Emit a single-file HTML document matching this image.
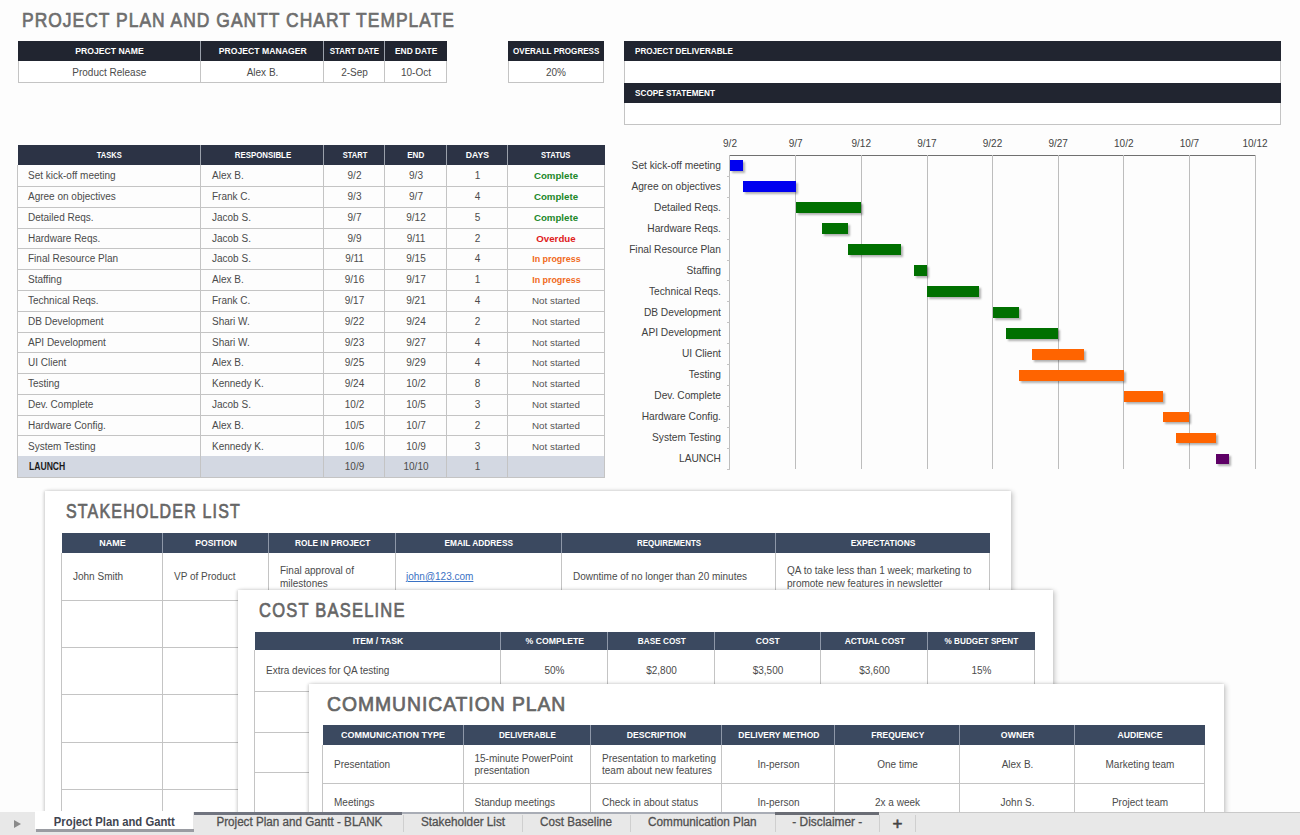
<!DOCTYPE html>
<html><head><meta charset="utf-8"><style>
html,body{margin:0;padding:0;}
body{width:1300px;height:835px;overflow:hidden;position:relative;background:#fdfdfd;font-family:"Liberation Sans",sans-serif;}
</style></head><body>
<div style="position:absolute;left:22.00px;top:0.07px;height:40px;line-height:40px;white-space:nowrap;font-size:20.5px;font-weight:400;color:#6e6e6e;transform:scaleX(0.8504);transform-origin:left center;-webkit-text-stroke:0.7px #6e6e6e;letter-spacing:1.2px;">PROJECT PLAN AND GANTT CHART TEMPLATE</div>
<div style="position:absolute;left:17.5px;top:41px;width:429.5px;height:20px;background:#212530;"></div>
<div style="position:absolute;left:200px;top:41px;width:1px;height:20px;background:#9aa0aa;"></div>
<div style="position:absolute;left:323px;top:41px;width:1px;height:20px;background:#9aa0aa;"></div>
<div style="position:absolute;left:384px;top:41px;width:1px;height:20px;background:#9aa0aa;"></div>
<div style="position:absolute;left:72.70px;top:31.17px;height:40px;line-height:40px;white-space:nowrap;font-size:9.2px;font-weight:700;color:#fff;transform:scaleX(0.9405);transform-origin:center center;">PROJECT NAME</div>
<div style="position:absolute;left:215.73px;top:31.17px;height:40px;line-height:40px;white-space:nowrap;font-size:9.2px;font-weight:700;color:#fff;transform:scaleX(0.9408);transform-origin:center center;">PROJECT MANAGER</div>
<div style="position:absolute;left:326.05px;top:31.17px;height:40px;line-height:40px;white-space:nowrap;font-size:9.2px;font-weight:700;color:#fff;transform:scaleX(0.8665);transform-origin:center center;">START DATE</div>
<div style="position:absolute;left:392.83px;top:31.17px;height:40px;line-height:40px;white-space:nowrap;font-size:9.2px;font-weight:700;color:#fff;transform:scaleX(0.9128);transform-origin:center center;">END DATE</div>
<div style="position:absolute;left:17.5px;top:61px;width:429.5px;height:22px;border:1px solid #c4c4c4;border-top:none;box-sizing:border-box;background:#fff;"></div>
<div style="position:absolute;left:200px;top:61px;width:1px;height:22px;background:#c4c4c4;"></div>
<div style="position:absolute;left:323px;top:61px;width:1px;height:22px;background:#c4c4c4;"></div>
<div style="position:absolute;left:384px;top:61px;width:1px;height:22px;background:#c4c4c4;"></div>
<div style="position:absolute;left:72.29px;top:53.18px;height:40px;line-height:40px;white-space:nowrap;font-size:10px;font-weight:400;color:#4b4b4b;">Product Release</div>
<div style="position:absolute;left:246.66px;top:53.18px;height:40px;line-height:40px;white-space:nowrap;font-size:10px;font-weight:400;color:#4b4b4b;">Alex B.</div>
<div style="position:absolute;left:341.16px;top:53.18px;height:40px;line-height:40px;white-space:nowrap;font-size:10px;font-weight:400;color:#4b4b4b;">2-Sep</div>
<div style="position:absolute;left:401.00px;top:53.18px;height:40px;line-height:40px;white-space:nowrap;font-size:10px;font-weight:400;color:#4b4b4b;">10-Oct</div>
<div style="position:absolute;left:507.5px;top:41px;width:96.5px;height:20px;background:#212530;"></div>
<div style="position:absolute;left:506.75px;top:31.17px;height:40px;line-height:40px;white-space:nowrap;font-size:9.2px;font-weight:700;color:#fff;transform:scaleX(0.8783);transform-origin:center center;">OVERALL PROGRESS</div>
<div style="position:absolute;left:507.5px;top:61px;width:96.5px;height:21.5px;border:1px solid #c4c4c4;border-top:none;box-sizing:border-box;background:#fff;"></div>
<div style="position:absolute;left:545.99px;top:53.18px;height:40px;line-height:40px;white-space:nowrap;font-size:10px;font-weight:400;color:#4b4b4b;">20%</div>
<div style="position:absolute;left:623.5px;top:41px;width:657.5px;height:20px;background:#212530;"></div>
<div style="position:absolute;left:634.50px;top:31.17px;height:40px;line-height:40px;white-space:nowrap;font-size:9.2px;font-weight:700;color:#fff;transform:scaleX(0.8835);transform-origin:left center;">PROJECT DELIVERABLE</div>
<div style="position:absolute;left:623.5px;top:61px;width:657.5px;height:22px;border-left:1px solid #c4c4c4;border-right:1px solid #c4c4c4;box-sizing:border-box;background:#fff;"></div>
<div style="position:absolute;left:623.5px;top:83px;width:657.5px;height:20px;background:#212530;"></div>
<div style="position:absolute;left:634.50px;top:73.17px;height:40px;line-height:40px;white-space:nowrap;font-size:9.2px;font-weight:700;color:#fff;transform:scaleX(0.8927);transform-origin:left center;">SCOPE STATEMENT</div>
<div style="position:absolute;left:623.5px;top:103px;width:657.5px;height:21.5px;border:1px solid #c4c4c4;border-top:none;box-sizing:border-box;background:#fff;"></div>
<div style="position:absolute;left:17.5px;top:145px;width:587.5px;height:20px;background:#2c3345;"></div>
<div style="position:absolute;left:200px;top:145px;width:1px;height:20px;background:#9aa0aa;"></div>
<div style="position:absolute;left:323px;top:145px;width:1px;height:20px;background:#9aa0aa;"></div>
<div style="position:absolute;left:384px;top:145px;width:1px;height:20px;background:#9aa0aa;"></div>
<div style="position:absolute;left:446px;top:145px;width:1px;height:20px;background:#9aa0aa;"></div>
<div style="position:absolute;left:507px;top:145px;width:1px;height:20px;background:#9aa0aa;"></div>
<div style="position:absolute;left:94.00px;top:135.17px;height:40px;line-height:40px;white-space:nowrap;font-size:9.2px;font-weight:700;color:#fff;transform:scaleX(0.8198);transform-origin:center center;">TASKS</div>
<div style="position:absolute;left:229.53px;top:135.17px;height:40px;line-height:40px;white-space:nowrap;font-size:9.2px;font-weight:700;color:#fff;transform:scaleX(0.8568);transform-origin:center center;">RESPONSIBLE</div>
<div style="position:absolute;left:339.51px;top:135.17px;height:40px;line-height:40px;white-space:nowrap;font-size:9.2px;font-weight:700;color:#fff;transform:scaleX(0.8205);transform-origin:center center;">START</div>
<div style="position:absolute;left:406.29px;top:135.17px;height:40px;line-height:40px;white-space:nowrap;font-size:9.2px;font-weight:700;color:#fff;transform:scaleX(0.8804);transform-origin:center center;">END</div>
<div style="position:absolute;left:465.14px;top:135.17px;height:40px;line-height:40px;white-space:nowrap;font-size:9.2px;font-weight:700;color:#fff;transform:scaleX(0.9387);transform-origin:center center;">DAYS</div>
<div style="position:absolute;left:538.28px;top:135.17px;height:40px;line-height:40px;white-space:nowrap;font-size:9.2px;font-weight:700;color:#fff;transform:scaleX(0.8297);transform-origin:center center;">STATUS</div>
<div style="position:absolute;left:17.5px;top:186px;width:587.5px;height:1px;background:#c4c4c4;"></div>
<div style="position:absolute;left:28.00px;top:156.18px;height:40px;line-height:40px;white-space:nowrap;font-size:10px;font-weight:400;color:#4b4b4b;">Set kick-off meeting</div>
<div style="position:absolute;left:212.00px;top:156.18px;height:40px;line-height:40px;white-space:nowrap;font-size:10px;font-weight:400;color:#4b4b4b;">Alex B.</div>
<div style="position:absolute;left:347.55px;top:156.18px;height:40px;line-height:40px;white-space:nowrap;font-size:10px;font-weight:400;color:#4b4b4b;">9/2</div>
<div style="position:absolute;left:409.05px;top:156.18px;height:40px;line-height:40px;white-space:nowrap;font-size:10px;font-weight:400;color:#4b4b4b;">9/3</div>
<div style="position:absolute;left:474.72px;top:156.18px;height:40px;line-height:40px;white-space:nowrap;font-size:10px;font-weight:400;color:#4b4b4b;">1</div>
<div style="position:absolute;left:533.90px;top:156.17px;height:40px;line-height:40px;white-space:nowrap;font-size:9.7px;font-weight:700;color:#22882a;">Complete</div>
<div style="position:absolute;left:17.5px;top:207px;width:587.5px;height:1px;background:#c4c4c4;"></div>
<div style="position:absolute;left:28.00px;top:177.07px;height:40px;line-height:40px;white-space:nowrap;font-size:10px;font-weight:400;color:#4b4b4b;">Agree on objectives</div>
<div style="position:absolute;left:212.00px;top:177.07px;height:40px;line-height:40px;white-space:nowrap;font-size:10px;font-weight:400;color:#4b4b4b;">Frank C.</div>
<div style="position:absolute;left:347.55px;top:177.07px;height:40px;line-height:40px;white-space:nowrap;font-size:10px;font-weight:400;color:#4b4b4b;">9/3</div>
<div style="position:absolute;left:409.05px;top:177.07px;height:40px;line-height:40px;white-space:nowrap;font-size:10px;font-weight:400;color:#4b4b4b;">9/7</div>
<div style="position:absolute;left:474.72px;top:177.07px;height:40px;line-height:40px;white-space:nowrap;font-size:10px;font-weight:400;color:#4b4b4b;">4</div>
<div style="position:absolute;left:533.90px;top:177.07px;height:40px;line-height:40px;white-space:nowrap;font-size:9.7px;font-weight:700;color:#22882a;">Complete</div>
<div style="position:absolute;left:17.5px;top:228px;width:587.5px;height:1px;background:#c4c4c4;"></div>
<div style="position:absolute;left:28.00px;top:197.86px;height:40px;line-height:40px;white-space:nowrap;font-size:10px;font-weight:400;color:#4b4b4b;">Detailed Reqs.</div>
<div style="position:absolute;left:212.00px;top:197.86px;height:40px;line-height:40px;white-space:nowrap;font-size:10px;font-weight:400;color:#4b4b4b;">Jacob S.</div>
<div style="position:absolute;left:347.55px;top:197.86px;height:40px;line-height:40px;white-space:nowrap;font-size:10px;font-weight:400;color:#4b4b4b;">9/7</div>
<div style="position:absolute;left:406.27px;top:197.86px;height:40px;line-height:40px;white-space:nowrap;font-size:10px;font-weight:400;color:#4b4b4b;">9/12</div>
<div style="position:absolute;left:474.72px;top:197.86px;height:40px;line-height:40px;white-space:nowrap;font-size:10px;font-weight:400;color:#4b4b4b;">5</div>
<div style="position:absolute;left:533.90px;top:197.85px;height:40px;line-height:40px;white-space:nowrap;font-size:9.7px;font-weight:700;color:#22882a;">Complete</div>
<div style="position:absolute;left:17.5px;top:248px;width:587.5px;height:1px;background:#c4c4c4;"></div>
<div style="position:absolute;left:28.00px;top:218.64px;height:40px;line-height:40px;white-space:nowrap;font-size:10px;font-weight:400;color:#4b4b4b;">Hardware Reqs.</div>
<div style="position:absolute;left:212.00px;top:218.64px;height:40px;line-height:40px;white-space:nowrap;font-size:10px;font-weight:400;color:#4b4b4b;">Jacob S.</div>
<div style="position:absolute;left:347.55px;top:218.64px;height:40px;line-height:40px;white-space:nowrap;font-size:10px;font-weight:400;color:#4b4b4b;">9/9</div>
<div style="position:absolute;left:406.64px;top:218.64px;height:40px;line-height:40px;white-space:nowrap;font-size:10px;font-weight:400;color:#4b4b4b;">9/11</div>
<div style="position:absolute;left:474.72px;top:218.64px;height:40px;line-height:40px;white-space:nowrap;font-size:10px;font-weight:400;color:#4b4b4b;">2</div>
<div style="position:absolute;left:536.32px;top:218.64px;height:40px;line-height:40px;white-space:nowrap;font-size:9.7px;font-weight:700;color:#e0201c;">Overdue</div>
<div style="position:absolute;left:17.5px;top:269px;width:587.5px;height:1px;background:#c4c4c4;"></div>
<div style="position:absolute;left:28.00px;top:239.43px;height:40px;line-height:40px;white-space:nowrap;font-size:10px;font-weight:400;color:#4b4b4b;">Final Resource Plan</div>
<div style="position:absolute;left:212.00px;top:239.43px;height:40px;line-height:40px;white-space:nowrap;font-size:10px;font-weight:400;color:#4b4b4b;">Jacob S.</div>
<div style="position:absolute;left:345.14px;top:239.43px;height:40px;line-height:40px;white-space:nowrap;font-size:10px;font-weight:400;color:#4b4b4b;">9/11</div>
<div style="position:absolute;left:406.27px;top:239.43px;height:40px;line-height:40px;white-space:nowrap;font-size:10px;font-weight:400;color:#4b4b4b;">9/15</div>
<div style="position:absolute;left:474.72px;top:239.43px;height:40px;line-height:40px;white-space:nowrap;font-size:10px;font-weight:400;color:#4b4b4b;">4</div>
<div style="position:absolute;left:529.59px;top:239.42px;height:40px;line-height:40px;white-space:nowrap;font-size:9.7px;font-weight:700;color:#f06a1a;transform:scaleX(0.9181);transform-origin:center center;">In progress</div>
<div style="position:absolute;left:17.5px;top:290px;width:587.5px;height:1px;background:#c4c4c4;"></div>
<div style="position:absolute;left:28.00px;top:260.22px;height:40px;line-height:40px;white-space:nowrap;font-size:10px;font-weight:400;color:#4b4b4b;">Staffing</div>
<div style="position:absolute;left:212.00px;top:260.22px;height:40px;line-height:40px;white-space:nowrap;font-size:10px;font-weight:400;color:#4b4b4b;">Alex B.</div>
<div style="position:absolute;left:344.77px;top:260.22px;height:40px;line-height:40px;white-space:nowrap;font-size:10px;font-weight:400;color:#4b4b4b;">9/16</div>
<div style="position:absolute;left:406.27px;top:260.22px;height:40px;line-height:40px;white-space:nowrap;font-size:10px;font-weight:400;color:#4b4b4b;">9/17</div>
<div style="position:absolute;left:474.72px;top:260.22px;height:40px;line-height:40px;white-space:nowrap;font-size:10px;font-weight:400;color:#4b4b4b;">1</div>
<div style="position:absolute;left:529.59px;top:260.21px;height:40px;line-height:40px;white-space:nowrap;font-size:9.7px;font-weight:700;color:#f06a1a;transform:scaleX(0.9181);transform-origin:center center;">In progress</div>
<div style="position:absolute;left:17.5px;top:311px;width:587.5px;height:1px;background:#c4c4c4;"></div>
<div style="position:absolute;left:28.00px;top:281.00px;height:40px;line-height:40px;white-space:nowrap;font-size:10px;font-weight:400;color:#4b4b4b;">Technical Reqs.</div>
<div style="position:absolute;left:212.00px;top:281.00px;height:40px;line-height:40px;white-space:nowrap;font-size:10px;font-weight:400;color:#4b4b4b;">Frank C.</div>
<div style="position:absolute;left:344.77px;top:281.00px;height:40px;line-height:40px;white-space:nowrap;font-size:10px;font-weight:400;color:#4b4b4b;">9/17</div>
<div style="position:absolute;left:406.27px;top:281.00px;height:40px;line-height:40px;white-space:nowrap;font-size:10px;font-weight:400;color:#4b4b4b;">9/21</div>
<div style="position:absolute;left:474.72px;top:281.00px;height:40px;line-height:40px;white-space:nowrap;font-size:10px;font-weight:400;color:#4b4b4b;">4</div>
<div style="position:absolute;left:532.03px;top:281.00px;height:40px;line-height:40px;white-space:nowrap;font-size:9.8px;font-weight:400;color:#555;">Not started</div>
<div style="position:absolute;left:17.5px;top:332px;width:587.5px;height:1px;background:#c4c4c4;"></div>
<div style="position:absolute;left:28.00px;top:301.79px;height:40px;line-height:40px;white-space:nowrap;font-size:10px;font-weight:400;color:#4b4b4b;">DB Development</div>
<div style="position:absolute;left:212.00px;top:301.79px;height:40px;line-height:40px;white-space:nowrap;font-size:10px;font-weight:400;color:#4b4b4b;">Shari W.</div>
<div style="position:absolute;left:344.77px;top:301.79px;height:40px;line-height:40px;white-space:nowrap;font-size:10px;font-weight:400;color:#4b4b4b;">9/22</div>
<div style="position:absolute;left:406.27px;top:301.79px;height:40px;line-height:40px;white-space:nowrap;font-size:10px;font-weight:400;color:#4b4b4b;">9/24</div>
<div style="position:absolute;left:474.72px;top:301.79px;height:40px;line-height:40px;white-space:nowrap;font-size:10px;font-weight:400;color:#4b4b4b;">2</div>
<div style="position:absolute;left:532.03px;top:301.78px;height:40px;line-height:40px;white-space:nowrap;font-size:9.8px;font-weight:400;color:#555;">Not started</div>
<div style="position:absolute;left:17.5px;top:352px;width:587.5px;height:1px;background:#c4c4c4;"></div>
<div style="position:absolute;left:28.00px;top:322.57px;height:40px;line-height:40px;white-space:nowrap;font-size:10px;font-weight:400;color:#4b4b4b;">API Development</div>
<div style="position:absolute;left:212.00px;top:322.57px;height:40px;line-height:40px;white-space:nowrap;font-size:10px;font-weight:400;color:#4b4b4b;">Shari W.</div>
<div style="position:absolute;left:344.77px;top:322.57px;height:40px;line-height:40px;white-space:nowrap;font-size:10px;font-weight:400;color:#4b4b4b;">9/23</div>
<div style="position:absolute;left:406.27px;top:322.57px;height:40px;line-height:40px;white-space:nowrap;font-size:10px;font-weight:400;color:#4b4b4b;">9/27</div>
<div style="position:absolute;left:474.72px;top:322.57px;height:40px;line-height:40px;white-space:nowrap;font-size:10px;font-weight:400;color:#4b4b4b;">4</div>
<div style="position:absolute;left:532.03px;top:322.57px;height:40px;line-height:40px;white-space:nowrap;font-size:9.8px;font-weight:400;color:#555;">Not started</div>
<div style="position:absolute;left:17.5px;top:373px;width:587.5px;height:1px;background:#c4c4c4;"></div>
<div style="position:absolute;left:28.00px;top:343.36px;height:40px;line-height:40px;white-space:nowrap;font-size:10px;font-weight:400;color:#4b4b4b;">UI Client</div>
<div style="position:absolute;left:212.00px;top:343.36px;height:40px;line-height:40px;white-space:nowrap;font-size:10px;font-weight:400;color:#4b4b4b;">Alex B.</div>
<div style="position:absolute;left:344.77px;top:343.36px;height:40px;line-height:40px;white-space:nowrap;font-size:10px;font-weight:400;color:#4b4b4b;">9/25</div>
<div style="position:absolute;left:406.27px;top:343.36px;height:40px;line-height:40px;white-space:nowrap;font-size:10px;font-weight:400;color:#4b4b4b;">9/29</div>
<div style="position:absolute;left:474.72px;top:343.36px;height:40px;line-height:40px;white-space:nowrap;font-size:10px;font-weight:400;color:#4b4b4b;">4</div>
<div style="position:absolute;left:532.03px;top:343.35px;height:40px;line-height:40px;white-space:nowrap;font-size:9.8px;font-weight:400;color:#555;">Not started</div>
<div style="position:absolute;left:17.5px;top:394px;width:587.5px;height:1px;background:#c4c4c4;"></div>
<div style="position:absolute;left:28.00px;top:364.14px;height:40px;line-height:40px;white-space:nowrap;font-size:10px;font-weight:400;color:#4b4b4b;">Testing</div>
<div style="position:absolute;left:212.00px;top:364.14px;height:40px;line-height:40px;white-space:nowrap;font-size:10px;font-weight:400;color:#4b4b4b;">Kennedy K.</div>
<div style="position:absolute;left:344.77px;top:364.14px;height:40px;line-height:40px;white-space:nowrap;font-size:10px;font-weight:400;color:#4b4b4b;">9/24</div>
<div style="position:absolute;left:406.27px;top:364.14px;height:40px;line-height:40px;white-space:nowrap;font-size:10px;font-weight:400;color:#4b4b4b;">10/2</div>
<div style="position:absolute;left:474.72px;top:364.14px;height:40px;line-height:40px;white-space:nowrap;font-size:10px;font-weight:400;color:#4b4b4b;">8</div>
<div style="position:absolute;left:532.03px;top:364.14px;height:40px;line-height:40px;white-space:nowrap;font-size:9.8px;font-weight:400;color:#555;">Not started</div>
<div style="position:absolute;left:17.5px;top:415px;width:587.5px;height:1px;background:#c4c4c4;"></div>
<div style="position:absolute;left:28.00px;top:384.93px;height:40px;line-height:40px;white-space:nowrap;font-size:10px;font-weight:400;color:#4b4b4b;">Dev. Complete</div>
<div style="position:absolute;left:212.00px;top:384.93px;height:40px;line-height:40px;white-space:nowrap;font-size:10px;font-weight:400;color:#4b4b4b;">Jacob S.</div>
<div style="position:absolute;left:344.77px;top:384.93px;height:40px;line-height:40px;white-space:nowrap;font-size:10px;font-weight:400;color:#4b4b4b;">10/2</div>
<div style="position:absolute;left:406.27px;top:384.93px;height:40px;line-height:40px;white-space:nowrap;font-size:10px;font-weight:400;color:#4b4b4b;">10/5</div>
<div style="position:absolute;left:474.72px;top:384.93px;height:40px;line-height:40px;white-space:nowrap;font-size:10px;font-weight:400;color:#4b4b4b;">3</div>
<div style="position:absolute;left:532.03px;top:384.93px;height:40px;line-height:40px;white-space:nowrap;font-size:9.8px;font-weight:400;color:#555;">Not started</div>
<div style="position:absolute;left:17.5px;top:435px;width:587.5px;height:1px;background:#c4c4c4;"></div>
<div style="position:absolute;left:28.00px;top:405.72px;height:40px;line-height:40px;white-space:nowrap;font-size:10px;font-weight:400;color:#4b4b4b;">Hardware Config.</div>
<div style="position:absolute;left:212.00px;top:405.72px;height:40px;line-height:40px;white-space:nowrap;font-size:10px;font-weight:400;color:#4b4b4b;">Alex B.</div>
<div style="position:absolute;left:344.77px;top:405.72px;height:40px;line-height:40px;white-space:nowrap;font-size:10px;font-weight:400;color:#4b4b4b;">10/5</div>
<div style="position:absolute;left:406.27px;top:405.72px;height:40px;line-height:40px;white-space:nowrap;font-size:10px;font-weight:400;color:#4b4b4b;">10/7</div>
<div style="position:absolute;left:474.72px;top:405.72px;height:40px;line-height:40px;white-space:nowrap;font-size:10px;font-weight:400;color:#4b4b4b;">2</div>
<div style="position:absolute;left:532.03px;top:405.71px;height:40px;line-height:40px;white-space:nowrap;font-size:9.8px;font-weight:400;color:#555;">Not started</div>
<div style="position:absolute;left:17.5px;top:456px;width:587.5px;height:1px;background:#c4c4c4;"></div>
<div style="position:absolute;left:28.00px;top:426.50px;height:40px;line-height:40px;white-space:nowrap;font-size:10px;font-weight:400;color:#4b4b4b;">System Testing</div>
<div style="position:absolute;left:212.00px;top:426.50px;height:40px;line-height:40px;white-space:nowrap;font-size:10px;font-weight:400;color:#4b4b4b;">Kennedy K.</div>
<div style="position:absolute;left:344.77px;top:426.50px;height:40px;line-height:40px;white-space:nowrap;font-size:10px;font-weight:400;color:#4b4b4b;">10/6</div>
<div style="position:absolute;left:406.27px;top:426.50px;height:40px;line-height:40px;white-space:nowrap;font-size:10px;font-weight:400;color:#4b4b4b;">10/9</div>
<div style="position:absolute;left:474.72px;top:426.50px;height:40px;line-height:40px;white-space:nowrap;font-size:10px;font-weight:400;color:#4b4b4b;">3</div>
<div style="position:absolute;left:532.03px;top:426.50px;height:40px;line-height:40px;white-space:nowrap;font-size:9.8px;font-weight:400;color:#555;">Not started</div>
<div style="position:absolute;left:17.5px;top:456.2142857142857px;width:586.5px;height:20.785714285714278px;background:#d3d8e2;"></div>
<div style="position:absolute;left:17.5px;top:477px;width:587.5px;height:1px;background:#c4c4c4;"></div>
<div style="position:absolute;left:28.50px;top:446.79px;height:40px;line-height:40px;white-space:nowrap;font-size:10.3px;font-weight:700;color:#1a1a1a;transform:scaleX(0.8347);transform-origin:left center;">LAUNCH</div>
<div style="position:absolute;left:212.00px;top:447.29px;height:40px;line-height:40px;white-space:nowrap;font-size:10px;font-weight:400;color:#4b4b4b;"></div>
<div style="position:absolute;left:344.77px;top:447.29px;height:40px;line-height:40px;white-space:nowrap;font-size:10px;font-weight:400;color:#4b4b4b;">10/9</div>
<div style="position:absolute;left:403.49px;top:447.29px;height:40px;line-height:40px;white-space:nowrap;font-size:10px;font-weight:400;color:#4b4b4b;">10/10</div>
<div style="position:absolute;left:474.72px;top:447.29px;height:40px;line-height:40px;white-space:nowrap;font-size:10px;font-weight:400;color:#4b4b4b;">1</div>
<div style="position:absolute;left:17px;top:165px;width:1px;height:313px;background:#c4c4c4;"></div>
<div style="position:absolute;left:200px;top:165px;width:1px;height:313px;background:#c4c4c4;"></div>
<div style="position:absolute;left:323px;top:165px;width:1px;height:313px;background:#c4c4c4;"></div>
<div style="position:absolute;left:384px;top:165px;width:1px;height:313px;background:#c4c4c4;"></div>
<div style="position:absolute;left:446px;top:165px;width:1px;height:313px;background:#c4c4c4;"></div>
<div style="position:absolute;left:507px;top:165px;width:1px;height:313px;background:#c4c4c4;"></div>
<div style="position:absolute;left:604px;top:165px;width:1px;height:313px;background:#c4c4c4;"></div>
<div style="position:absolute;left:729.0px;top:155px;width:527.0px;height:1px;background:#707070;"></div>
<div style="position:absolute;left:729px;top:155px;width:1px;height:313.5px;background:#bdbdbd;"></div>
<div style="position:absolute;left:723.05px;top:124.48px;height:40px;line-height:40px;white-space:nowrap;font-size:10px;font-weight:400;color:#444;">9/2</div>
<div style="position:absolute;left:795px;top:155px;width:1px;height:313.5px;background:#bdbdbd;"></div>
<div style="position:absolute;left:788.67px;top:124.48px;height:40px;line-height:40px;white-space:nowrap;font-size:10px;font-weight:400;color:#444;">9/7</div>
<div style="position:absolute;left:861px;top:155px;width:1px;height:313.5px;background:#bdbdbd;"></div>
<div style="position:absolute;left:851.52px;top:124.48px;height:40px;line-height:40px;white-space:nowrap;font-size:10px;font-weight:400;color:#444;">9/12</div>
<div style="position:absolute;left:927px;top:155px;width:1px;height:313.5px;background:#bdbdbd;"></div>
<div style="position:absolute;left:917.14px;top:124.48px;height:40px;line-height:40px;white-space:nowrap;font-size:10px;font-weight:400;color:#444;">9/17</div>
<div style="position:absolute;left:992px;top:155px;width:1px;height:313.5px;background:#bdbdbd;"></div>
<div style="position:absolute;left:982.77px;top:124.48px;height:40px;line-height:40px;white-space:nowrap;font-size:10px;font-weight:400;color:#444;">9/22</div>
<div style="position:absolute;left:1058px;top:155px;width:1px;height:313.5px;background:#bdbdbd;"></div>
<div style="position:absolute;left:1048.39px;top:124.48px;height:40px;line-height:40px;white-space:nowrap;font-size:10px;font-weight:400;color:#444;">9/27</div>
<div style="position:absolute;left:1123px;top:155px;width:1px;height:313.5px;background:#bdbdbd;"></div>
<div style="position:absolute;left:1114.02px;top:124.48px;height:40px;line-height:40px;white-space:nowrap;font-size:10px;font-weight:400;color:#444;">10/2</div>
<div style="position:absolute;left:1189px;top:155px;width:1px;height:313.5px;background:#bdbdbd;"></div>
<div style="position:absolute;left:1179.64px;top:124.48px;height:40px;line-height:40px;white-space:nowrap;font-size:10px;font-weight:400;color:#444;">10/7</div>
<div style="position:absolute;left:1255px;top:155px;width:1px;height:313.5px;background:#bdbdbd;"></div>
<div style="position:absolute;left:1242.49px;top:124.48px;height:40px;line-height:40px;white-space:nowrap;font-size:10px;font-weight:400;color:#444;">10/12</div>
<div style="position:absolute;left:631.61px;top:145.88px;height:40px;line-height:40px;white-space:nowrap;font-size:10.2px;font-weight:400;color:#404040;">Set kick-off meeting</div>
<div style="position:absolute;left:727px;top:175.70000000000002px;width:3px;height:1.0px;background:#c4c4c4;"></div>
<div style="position:absolute;left:730.0px;top:160.20000000000002px;width:13.125px;height:10.900000000000006px;background:#0000f0;box-shadow:2px 2px 2px rgba(0,0,0,0.3);"></div>
<div style="position:absolute;left:631.40px;top:166.83px;height:40px;line-height:40px;white-space:nowrap;font-size:10.2px;font-weight:400;color:#404040;">Agree on objectives</div>
<div style="position:absolute;left:727px;top:196.65px;width:3px;height:1.0px;background:#c4c4c4;"></div>
<div style="position:absolute;left:743.125px;top:181.15px;width:52.5px;height:10.900000000000006px;background:#0000f0;box-shadow:2px 2px 2px rgba(0,0,0,0.3);"></div>
<div style="position:absolute;left:654.09px;top:187.78px;height:40px;line-height:40px;white-space:nowrap;font-size:10.2px;font-weight:400;color:#404040;">Detailed Reqs.</div>
<div style="position:absolute;left:727px;top:217.60000000000002px;width:3px;height:1.0px;background:#c4c4c4;"></div>
<div style="position:absolute;left:795.625px;top:202.10000000000002px;width:65.625px;height:10.900000000000006px;background:#007000;box-shadow:2px 2px 2px rgba(0,0,0,0.3);"></div>
<div style="position:absolute;left:647.30px;top:208.73px;height:40px;line-height:40px;white-space:nowrap;font-size:10.2px;font-weight:400;color:#404040;">Hardware Reqs.</div>
<div style="position:absolute;left:727px;top:238.55px;width:3px;height:1.0px;background:#c4c4c4;"></div>
<div style="position:absolute;left:821.875px;top:223.05px;width:26.25px;height:10.900000000000006px;background:#007000;box-shadow:2px 2px 2px rgba(0,0,0,0.3);"></div>
<div style="position:absolute;left:629.15px;top:229.68px;height:40px;line-height:40px;white-space:nowrap;font-size:10.2px;font-weight:400;color:#404040;">Final Resource Plan</div>
<div style="position:absolute;left:727px;top:259.5px;width:3px;height:1.0px;background:#c4c4c4;"></div>
<div style="position:absolute;left:848.125px;top:244.00000000000003px;width:52.5px;height:10.900000000000006px;background:#007000;box-shadow:2px 2px 2px rgba(0,0,0,0.3);"></div>
<div style="position:absolute;left:686.59px;top:250.63px;height:40px;line-height:40px;white-space:nowrap;font-size:10.2px;font-weight:400;color:#404040;">Staffing</div>
<div style="position:absolute;left:727px;top:280.45px;width:3px;height:1.0px;background:#c4c4c4;"></div>
<div style="position:absolute;left:913.75px;top:264.95px;width:13.125px;height:10.900000000000034px;background:#007000;box-shadow:2px 2px 2px rgba(0,0,0,0.3);"></div>
<div style="position:absolute;left:648.99px;top:271.58px;height:40px;line-height:40px;white-space:nowrap;font-size:10.2px;font-weight:400;color:#404040;">Technical Reqs.</div>
<div style="position:absolute;left:727px;top:301.4px;width:3px;height:1.0px;background:#c4c4c4;"></div>
<div style="position:absolute;left:926.875px;top:285.9px;width:52.5px;height:10.900000000000034px;background:#007000;box-shadow:2px 2px 2px rgba(0,0,0,0.3);"></div>
<div style="position:absolute;left:643.89px;top:292.53px;height:40px;line-height:40px;white-space:nowrap;font-size:10.2px;font-weight:400;color:#404040;">DB Development</div>
<div style="position:absolute;left:727px;top:322.35px;width:3px;height:1.0px;background:#c4c4c4;"></div>
<div style="position:absolute;left:992.5px;top:306.85px;width:26.25px;height:10.900000000000034px;background:#007000;box-shadow:2px 2px 2px rgba(0,0,0,0.3);"></div>
<div style="position:absolute;left:641.62px;top:313.48px;height:40px;line-height:40px;white-space:nowrap;font-size:10.2px;font-weight:400;color:#404040;">API Development</div>
<div style="position:absolute;left:727px;top:343.29999999999995px;width:3px;height:1.0px;background:#c4c4c4;"></div>
<div style="position:absolute;left:1005.625px;top:327.79999999999995px;width:52.5px;height:10.900000000000034px;background:#007000;box-shadow:2px 2px 2px rgba(0,0,0,0.3);"></div>
<div style="position:absolute;left:681.89px;top:334.43px;height:40px;line-height:40px;white-space:nowrap;font-size:10.2px;font-weight:400;color:#404040;">UI Client</div>
<div style="position:absolute;left:727px;top:364.25px;width:3px;height:1.0px;background:#c4c4c4;"></div>
<div style="position:absolute;left:1031.875px;top:348.75px;width:52.5px;height:10.900000000000034px;background:#ff6400;box-shadow:2px 2px 2px rgba(0,0,0,0.3);"></div>
<div style="position:absolute;left:688.68px;top:355.38px;height:40px;line-height:40px;white-space:nowrap;font-size:10.2px;font-weight:400;color:#404040;">Testing</div>
<div style="position:absolute;left:727px;top:385.2px;width:3px;height:1.0px;background:#c4c4c4;"></div>
<div style="position:absolute;left:1018.75px;top:369.7px;width:105.0px;height:10.900000000000034px;background:#ff6400;box-shadow:2px 2px 2px rgba(0,0,0,0.3);"></div>
<div style="position:absolute;left:654.29px;top:376.33px;height:40px;line-height:40px;white-space:nowrap;font-size:10.2px;font-weight:400;color:#404040;">Dev. Complete</div>
<div style="position:absolute;left:727px;top:406.15px;width:3px;height:1.0px;background:#c4c4c4;"></div>
<div style="position:absolute;left:1123.75px;top:390.65px;width:39.375px;height:10.900000000000034px;background:#ff6400;box-shadow:2px 2px 2px rgba(0,0,0,0.3);"></div>
<div style="position:absolute;left:641.63px;top:397.28px;height:40px;line-height:40px;white-space:nowrap;font-size:10.2px;font-weight:400;color:#404040;">Hardware Config.</div>
<div style="position:absolute;left:727px;top:427.09999999999997px;width:3px;height:1.0px;background:#c4c4c4;"></div>
<div style="position:absolute;left:1163.125px;top:411.59999999999997px;width:26.25px;height:10.900000000000034px;background:#ff6400;box-shadow:2px 2px 2px rgba(0,0,0,0.3);"></div>
<div style="position:absolute;left:652.02px;top:418.23px;height:40px;line-height:40px;white-space:nowrap;font-size:10.2px;font-weight:400;color:#404040;">System Testing</div>
<div style="position:absolute;left:727px;top:448.04999999999995px;width:3px;height:1.0px;background:#c4c4c4;"></div>
<div style="position:absolute;left:1176.25px;top:432.54999999999995px;width:39.375px;height:10.900000000000034px;background:#ff6400;box-shadow:2px 2px 2px rgba(0,0,0,0.3);"></div>
<div style="position:absolute;left:679.06px;top:439.18px;height:40px;line-height:40px;white-space:nowrap;font-size:10.2px;font-weight:400;color:#404040;">LAUNCH</div>
<div style="position:absolute;left:727px;top:469.0px;width:3px;height:1.0px;background:#c4c4c4;"></div>
<div style="position:absolute;left:1215.625px;top:453.5px;width:13.125px;height:10.900000000000034px;background:#5e0066;box-shadow:2px 2px 2px rgba(0,0,0,0.3);"></div>
<div style="position:absolute;left:44.7px;top:491px;width:965.9px;height:344px;background:#fff;box-shadow:-1px 0 3px rgba(0,0,0,0.16), 2px 1px 5px rgba(0,0,0,0.2);z-index:10;"></div>
<div style="position:absolute;left:66.00px;top:490.97px;height:40px;line-height:40px;white-space:nowrap;font-size:20.3px;font-weight:400;color:#666;transform:scaleX(0.7885);transform-origin:left center;z-index:10;-webkit-text-stroke:0.7px #666;letter-spacing:1.5px;">STAKEHOLDER LIST</div>
<div style="position:absolute;left:62px;top:533px;width:928px;height:19.5px;background:#3b4960;z-index:10;"></div>
<div style="position:absolute;left:162px;top:533px;width:1px;height:19.5px;background:#8d97a8;z-index:10;;"></div>
<div style="position:absolute;left:268px;top:533px;width:1px;height:19.5px;background:#8d97a8;z-index:10;;"></div>
<div style="position:absolute;left:395px;top:533px;width:1px;height:19.5px;background:#8d97a8;z-index:10;;"></div>
<div style="position:absolute;left:561px;top:533px;width:1px;height:19.5px;background:#8d97a8;z-index:10;;"></div>
<div style="position:absolute;left:775px;top:533px;width:1px;height:19.5px;background:#8d97a8;z-index:10;;"></div>
<div style="position:absolute;left:98.96px;top:522.92px;height:40px;line-height:40px;white-space:nowrap;font-size:9.2px;font-weight:700;color:#fff;transform:scaleX(0.9783);transform-origin:center center;z-index:10;">NAME</div>
<div style="position:absolute;left:194.02px;top:522.92px;height:40px;line-height:40px;white-space:nowrap;font-size:9.2px;font-weight:700;color:#fff;transform:scaleX(0.9463);transform-origin:center center;z-index:10;">POSITION</div>
<div style="position:absolute;left:290.84px;top:522.92px;height:40px;line-height:40px;white-space:nowrap;font-size:9.2px;font-weight:700;color:#fff;transform:scaleX(0.9049);transform-origin:center center;z-index:10;">ROLE IN PROJECT</div>
<div style="position:absolute;left:441.17px;top:522.92px;height:40px;line-height:40px;white-space:nowrap;font-size:9.2px;font-weight:700;color:#fff;transform:scaleX(0.9054);transform-origin:center center;z-index:10;">EMAIL ADDRESS</div>
<div style="position:absolute;left:631.94px;top:522.92px;height:40px;line-height:40px;white-space:nowrap;font-size:9.2px;font-weight:700;color:#fff;transform:scaleX(0.8676);transform-origin:center center;z-index:10;">REQUIREMENTS</div>
<div style="position:absolute;left:847.90px;top:522.92px;height:40px;line-height:40px;white-space:nowrap;font-size:9.2px;font-weight:700;color:#fff;transform:scaleX(0.9245);transform-origin:center center;z-index:10;">EXPECTATIONS</div>
<div style="position:absolute;left:61px;top:552.5px;width:1px;height:282.5px;background:#c4c4c4;z-index:10;;"></div>
<div style="position:absolute;left:162px;top:552.5px;width:1px;height:282.5px;background:#c4c4c4;z-index:10;;"></div>
<div style="position:absolute;left:268px;top:552.5px;width:1px;height:282.5px;background:#c4c4c4;z-index:10;;"></div>
<div style="position:absolute;left:395px;top:552.5px;width:1px;height:282.5px;background:#c4c4c4;z-index:10;;"></div>
<div style="position:absolute;left:561px;top:552.5px;width:1px;height:282.5px;background:#c4c4c4;z-index:10;;"></div>
<div style="position:absolute;left:775px;top:552.5px;width:1px;height:282.5px;background:#c4c4c4;z-index:10;;"></div>
<div style="position:absolute;left:989px;top:552.5px;width:1px;height:282.5px;background:#c4c4c4;z-index:10;;"></div>
<div style="position:absolute;left:62px;top:600.3px;width:928px;height:1.0px;background:#c4c4c4;z-index:10;;"></div>
<div style="position:absolute;left:62px;top:647.3px;width:928px;height:1.0px;background:#c4c4c4;z-index:10;;"></div>
<div style="position:absolute;left:62px;top:694.3px;width:928px;height:1.0px;background:#c4c4c4;z-index:10;;"></div>
<div style="position:absolute;left:62px;top:741.5px;width:928px;height:1.0px;background:#c4c4c4;z-index:10;;"></div>
<div style="position:absolute;left:62px;top:789px;width:928px;height:1px;background:#c4c4c4;z-index:10;;"></div>
<div style="position:absolute;left:73.00px;top:557.18px;height:40px;line-height:40px;white-space:nowrap;font-size:10px;font-weight:400;color:#4b4b4b;z-index:10;">John Smith</div>
<div style="position:absolute;left:174.00px;top:557.18px;height:40px;line-height:40px;white-space:nowrap;font-size:10px;font-weight:400;color:#4b4b4b;z-index:10;">VP of Product</div>
<div style="position:absolute;left:280.00px;top:551.43px;height:40px;line-height:40px;white-space:nowrap;font-size:10px;font-weight:400;color:#4b4b4b;z-index:10;">Final approval of</div>
<div style="position:absolute;left:280.00px;top:563.73px;height:40px;line-height:40px;white-space:nowrap;font-size:10px;font-weight:400;color:#4b4b4b;z-index:10;">milestones</div>
<div style="position:absolute;left:406.00px;top:557.18px;height:40px;line-height:40px;white-space:nowrap;font-size:10px;font-weight:400;color:#3b72c4;z-index:10;text-decoration:underline;">john@123.com</div>
<div style="position:absolute;left:573.00px;top:557.18px;height:40px;line-height:40px;white-space:nowrap;font-size:10px;font-weight:400;color:#4b4b4b;z-index:10;">Downtime of no longer than 20 minutes</div>
<div style="position:absolute;left:787.00px;top:551.43px;height:40px;line-height:40px;white-space:nowrap;font-size:10px;font-weight:400;color:#4b4b4b;z-index:10;">QA to take less than 1 week; marketing to</div>
<div style="position:absolute;left:787.00px;top:563.73px;height:40px;line-height:40px;white-space:nowrap;font-size:10px;font-weight:400;color:#4b4b4b;z-index:10;">promote new features in newsletter</div>
<div style="position:absolute;left:237.6px;top:590px;width:814.9999999999999px;height:245px;background:#fff;box-shadow:-1px 0 3px rgba(0,0,0,0.16), 2px 1px 5px rgba(0,0,0,0.2);z-index:20;"></div>
<div style="position:absolute;left:259.00px;top:589.97px;height:40px;line-height:40px;white-space:nowrap;font-size:20.5px;font-weight:400;color:#666;transform:scaleX(0.8059);transform-origin:left center;z-index:20;-webkit-text-stroke:0.7px #666;letter-spacing:1.5px;">COST BASELINE</div>
<div style="position:absolute;left:255px;top:632px;width:780px;height:18px;background:#3b4960;z-index:20;"></div>
<div style="position:absolute;left:500px;top:632px;width:1px;height:18px;background:#8d97a8;z-index:20;;"></div>
<div style="position:absolute;left:607px;top:632px;width:1px;height:18px;background:#8d97a8;z-index:20;;"></div>
<div style="position:absolute;left:714px;top:632px;width:1px;height:18px;background:#8d97a8;z-index:20;;"></div>
<div style="position:absolute;left:820px;top:632px;width:1px;height:18px;background:#8d97a8;z-index:20;;"></div>
<div style="position:absolute;left:927px;top:632px;width:1px;height:18px;background:#8d97a8;z-index:20;;"></div>
<div style="position:absolute;left:351.00px;top:621.17px;height:40px;line-height:40px;white-space:nowrap;font-size:9.2px;font-weight:700;color:#fff;transform:scaleX(0.9388);transform-origin:center center;z-index:20;">ITEM / TASK</div>
<div style="position:absolute;left:523.58px;top:621.17px;height:40px;line-height:40px;white-space:nowrap;font-size:9.2px;font-weight:700;color:#fff;transform:scaleX(0.9475);transform-origin:center center;z-index:20;">% COMPLETE</div>
<div style="position:absolute;left:634.66px;top:621.17px;height:40px;line-height:40px;white-space:nowrap;font-size:9.2px;font-weight:700;color:#fff;transform:scaleX(0.8962);transform-origin:center center;z-index:20;">BASE COST</div>
<div style="position:absolute;left:755.22px;top:621.17px;height:40px;line-height:40px;white-space:nowrap;font-size:9.2px;font-weight:700;color:#fff;transform:scaleX(0.9352);transform-origin:center center;z-index:20;">COST</div>
<div style="position:absolute;left:841.62px;top:621.17px;height:40px;line-height:40px;white-space:nowrap;font-size:9.2px;font-weight:700;color:#fff;transform:scaleX(0.9185);transform-origin:center center;z-index:20;">ACTUAL COST</div>
<div style="position:absolute;left:940.10px;top:621.17px;height:40px;line-height:40px;white-space:nowrap;font-size:9.2px;font-weight:700;color:#fff;transform:scaleX(0.8900);transform-origin:center center;z-index:20;">% BUDGET SPENT</div>
<div style="position:absolute;left:254px;top:650px;width:1px;height:185px;background:#c4c4c4;z-index:20;;"></div>
<div style="position:absolute;left:500px;top:650px;width:1px;height:185px;background:#c4c4c4;z-index:20;;"></div>
<div style="position:absolute;left:607px;top:650px;width:1px;height:185px;background:#c4c4c4;z-index:20;;"></div>
<div style="position:absolute;left:714px;top:650px;width:1px;height:185px;background:#c4c4c4;z-index:20;;"></div>
<div style="position:absolute;left:820px;top:650px;width:1px;height:185px;background:#c4c4c4;z-index:20;;"></div>
<div style="position:absolute;left:927px;top:650px;width:1px;height:185px;background:#c4c4c4;z-index:20;;"></div>
<div style="position:absolute;left:1034px;top:650px;width:1px;height:185px;background:#c4c4c4;z-index:20;;"></div>
<div style="position:absolute;left:255px;top:690.7px;width:780px;height:1.0px;background:#c4c4c4;z-index:20;;"></div>
<div style="position:absolute;left:255px;top:731.5px;width:780px;height:1.0px;background:#c4c4c4;z-index:20;;"></div>
<div style="position:absolute;left:255px;top:772px;width:780px;height:1px;background:#c4c4c4;z-index:20;;"></div>
<div style="position:absolute;left:255px;top:812.5px;width:780px;height:1.0px;background:#c4c4c4;z-index:20;;"></div>
<div style="position:absolute;left:266.00px;top:651.13px;height:40px;line-height:40px;white-space:nowrap;font-size:10px;font-weight:400;color:#4b4b4b;z-index:20;">Extra devices for QA testing</div>
<div style="position:absolute;left:544.49px;top:651.13px;height:40px;line-height:40px;white-space:nowrap;font-size:10px;font-weight:400;color:#4b4b4b;z-index:20;">50%</div>
<div style="position:absolute;left:646.21px;top:651.13px;height:40px;line-height:40px;white-space:nowrap;font-size:10px;font-weight:400;color:#4b4b4b;z-index:20;">$2,800</div>
<div style="position:absolute;left:752.71px;top:651.13px;height:40px;line-height:40px;white-space:nowrap;font-size:10px;font-weight:400;color:#4b4b4b;z-index:20;">$3,500</div>
<div style="position:absolute;left:859.21px;top:651.13px;height:40px;line-height:40px;white-space:nowrap;font-size:10px;font-weight:400;color:#4b4b4b;z-index:20;">$3,600</div>
<div style="position:absolute;left:971.49px;top:651.13px;height:40px;line-height:40px;white-space:nowrap;font-size:10px;font-weight:400;color:#4b4b4b;z-index:20;">15%</div>
<div style="position:absolute;left:309px;top:684px;width:914.5px;height:151px;background:#fff;box-shadow:-1px 0 3px rgba(0,0,0,0.16), 2px 1px 5px rgba(0,0,0,0.2);z-index:30;"></div>
<div style="position:absolute;left:326.50px;top:683.97px;height:40px;line-height:40px;white-space:nowrap;font-size:20.3px;font-weight:400;color:#666;transform:scaleX(0.9537);transform-origin:left center;z-index:30;-webkit-text-stroke:0.7px #666;letter-spacing:1.0px;">COMMUNICATION PLAN</div>
<div style="position:absolute;left:323px;top:725.3px;width:882px;height:19.700000000000045px;background:#3b4960;z-index:30;"></div>
<div style="position:absolute;left:463px;top:725.3px;width:1px;height:19.700000000000045px;background:#8d97a8;z-index:30;;"></div>
<div style="position:absolute;left:590px;top:725.3px;width:1px;height:19.700000000000045px;background:#8d97a8;z-index:30;;"></div>
<div style="position:absolute;left:721px;top:725.3px;width:1px;height:19.700000000000045px;background:#8d97a8;z-index:30;;"></div>
<div style="position:absolute;left:834px;top:725.3px;width:1px;height:19.700000000000045px;background:#8d97a8;z-index:30;;"></div>
<div style="position:absolute;left:959px;top:725.3px;width:1px;height:19.700000000000045px;background:#8d97a8;z-index:30;;"></div>
<div style="position:absolute;left:1074px;top:725.3px;width:1px;height:19.700000000000045px;background:#8d97a8;z-index:30;;"></div>
<div style="position:absolute;left:340.18px;top:715.32px;height:40px;line-height:40px;white-space:nowrap;font-size:9.2px;font-weight:700;color:#fff;transform:scaleX(0.9799);transform-origin:center center;z-index:30;">COMMUNICATION TYPE</div>
<div style="position:absolute;left:494.79px;top:715.32px;height:40px;line-height:40px;white-space:nowrap;font-size:9.2px;font-weight:700;color:#fff;transform:scaleX(0.8781);transform-origin:center center;z-index:30;">DELIVERABLE</div>
<div style="position:absolute;left:625.06px;top:715.32px;height:40px;line-height:40px;white-space:nowrap;font-size:9.2px;font-weight:700;color:#fff;transform:scaleX(0.9416);transform-origin:center center;z-index:30;">DESCRIPTION</div>
<div style="position:absolute;left:734.54px;top:715.32px;height:40px;line-height:40px;white-space:nowrap;font-size:9.2px;font-weight:700;color:#fff;transform:scaleX(0.9235);transform-origin:center center;z-index:30;">DELIVERY METHOD</div>
<div style="position:absolute;left:868.62px;top:715.32px;height:40px;line-height:40px;white-space:nowrap;font-size:9.2px;font-weight:700;color:#fff;transform:scaleX(0.9193);transform-origin:center center;z-index:30;">FREQUENCY</div>
<div style="position:absolute;left:999.87px;top:715.32px;height:40px;line-height:40px;white-space:nowrap;font-size:9.2px;font-weight:700;color:#fff;transform:scaleX(0.9529);transform-origin:center center;z-index:30;">OWNER</div>
<div style="position:absolute;left:1115.98px;top:715.32px;height:40px;line-height:40px;white-space:nowrap;font-size:9.2px;font-weight:700;color:#fff;transform:scaleX(0.9366);transform-origin:center center;z-index:30;">AUDIENCE</div>
<div style="position:absolute;left:322px;top:745px;width:1px;height:90px;background:#c4c4c4;z-index:30;;"></div>
<div style="position:absolute;left:463px;top:745px;width:1px;height:90px;background:#c4c4c4;z-index:30;;"></div>
<div style="position:absolute;left:590px;top:745px;width:1px;height:90px;background:#c4c4c4;z-index:30;;"></div>
<div style="position:absolute;left:721px;top:745px;width:1px;height:90px;background:#c4c4c4;z-index:30;;"></div>
<div style="position:absolute;left:834px;top:745px;width:1px;height:90px;background:#c4c4c4;z-index:30;;"></div>
<div style="position:absolute;left:959px;top:745px;width:1px;height:90px;background:#c4c4c4;z-index:30;;"></div>
<div style="position:absolute;left:1074px;top:745px;width:1px;height:90px;background:#c4c4c4;z-index:30;;"></div>
<div style="position:absolute;left:1204px;top:745px;width:1px;height:90px;background:#c4c4c4;z-index:30;;"></div>
<div style="position:absolute;left:323px;top:783.2px;width:882px;height:1.0px;background:#c4c4c4;z-index:30;;"></div>
<div style="position:absolute;left:323px;top:822px;width:882px;height:1px;background:#c4c4c4;z-index:30;;"></div>
<div style="position:absolute;left:334.00px;top:744.88px;height:40px;line-height:40px;white-space:nowrap;font-size:10px;font-weight:400;color:#4b4b4b;z-index:30;">Presentation</div>
<div style="position:absolute;left:474.50px;top:739.13px;height:40px;line-height:40px;white-space:nowrap;font-size:10px;font-weight:400;color:#4b4b4b;z-index:30;">15-minute PowerPoint</div>
<div style="position:absolute;left:474.50px;top:751.43px;height:40px;line-height:40px;white-space:nowrap;font-size:10px;font-weight:400;color:#4b4b4b;z-index:30;">presentation</div>
<div style="position:absolute;left:602.00px;top:739.13px;height:40px;line-height:40px;white-space:nowrap;font-size:10px;font-weight:400;color:#4b4b4b;z-index:30;">Presentation to marketing</div>
<div style="position:absolute;left:602.00px;top:751.43px;height:40px;line-height:40px;white-space:nowrap;font-size:10px;font-weight:400;color:#4b4b4b;z-index:30;">team about new features</div>
<div style="position:absolute;left:757.38px;top:744.88px;height:40px;line-height:40px;white-space:nowrap;font-size:10px;font-weight:400;color:#4b4b4b;z-index:30;">In-person</div>
<div style="position:absolute;left:877.22px;top:744.88px;height:40px;line-height:40px;white-space:nowrap;font-size:10px;font-weight:400;color:#4b4b4b;z-index:30;">One time</div>
<div style="position:absolute;left:1001.66px;top:744.88px;height:40px;line-height:40px;white-space:nowrap;font-size:10px;font-weight:400;color:#4b4b4b;z-index:30;">Alex B.</div>
<div style="position:absolute;left:1105.54px;top:744.88px;height:40px;line-height:40px;white-space:nowrap;font-size:10px;font-weight:400;color:#4b4b4b;z-index:30;">Marketing team</div>
<div style="position:absolute;left:334.00px;top:783.38px;height:40px;line-height:40px;white-space:nowrap;font-size:10px;font-weight:400;color:#4b4b4b;z-index:30;">Meetings</div>
<div style="position:absolute;left:474.50px;top:783.38px;height:40px;line-height:40px;white-space:nowrap;font-size:10px;font-weight:400;color:#4b4b4b;z-index:30;">Standup meetings</div>
<div style="position:absolute;left:602.00px;top:783.38px;height:40px;line-height:40px;white-space:nowrap;font-size:10px;font-weight:400;color:#4b4b4b;z-index:30;">Check in about status</div>
<div style="position:absolute;left:757.38px;top:783.38px;height:40px;line-height:40px;white-space:nowrap;font-size:10px;font-weight:400;color:#4b4b4b;z-index:30;">In-person</div>
<div style="position:absolute;left:874.99px;top:783.38px;height:40px;line-height:40px;white-space:nowrap;font-size:10px;font-weight:400;color:#4b4b4b;z-index:30;">2x a week</div>
<div style="position:absolute;left:1000.55px;top:783.38px;height:40px;line-height:40px;white-space:nowrap;font-size:10px;font-weight:400;color:#4b4b4b;z-index:30;">John S.</div>
<div style="position:absolute;left:1111.94px;top:783.38px;height:40px;line-height:40px;white-space:nowrap;font-size:10px;font-weight:400;color:#4b4b4b;z-index:30;">Project team</div>
<div style="position:absolute;left:0px;top:812px;width:1300px;height:23px;background:#e8e8e8;z-index:50;"></div>
<div style="position:absolute;left:194px;top:812px;width:208px;height:2.5px;background:#70747f;z-index:50;"></div>
<div style="position:absolute;left:402px;top:812px;width:373px;height:1.5px;background:#a9adb6;z-index:50;"></div>
<div style="position:absolute;left:775px;top:812px;width:103.5px;height:3px;background:#6a6d75;z-index:50;"></div>
<div style="position:absolute;left:878.5px;top:812px;width:421.5px;height:1px;background:#c9c9c9;z-index:50;"></div>
<div style="position:absolute;left:34.6px;top:811px;width:158.9px;height:18px;background:#fff;z-index:50;"></div>
<div style="position:absolute;left:36px;top:829px;width:157.5px;height:3px;background:#9a9ca2;z-index:50;"></div>
<div style="position:absolute;left:13.5px;top:820px;width:0;height:0;border-top:4.5px solid transparent;border-bottom:4.5px solid transparent;border-left:7px solid #8a8a8a;z-index:51;"></div>
<div style="position:absolute;left:49.65px;top:801.72px;height:40px;line-height:40px;white-space:nowrap;font-size:12px;font-weight:700;color:#3f4550;transform:scaleX(0.9402);transform-origin:center center;z-index:51;">Project Plan and Gantt</div>
<div style="position:absolute;left:403px;top:815px;width:1px;height:17px;background:#cfcfcf;z-index:50;"></div>
<div style="position:absolute;left:522px;top:815px;width:1px;height:17px;background:#cfcfcf;z-index:50;"></div>
<div style="position:absolute;left:630px;top:815px;width:1px;height:17px;background:#cfcfcf;z-index:50;"></div>
<div style="position:absolute;left:775px;top:815px;width:1px;height:17px;background:#cfcfcf;z-index:50;"></div>
<div style="position:absolute;left:878.5px;top:815px;width:1.0px;height:17px;background:#cfcfcf;z-index:50;"></div>
<div style="position:absolute;left:915px;top:815px;width:1px;height:17px;background:#cfcfcf;z-index:50;"></div>
<div style="position:absolute;left:213.62px;top:801.72px;height:40px;line-height:40px;white-space:nowrap;font-size:12px;font-weight:400;color:#505050;transform:scaleX(0.9721);transform-origin:center center;z-index:51;-webkit-text-stroke:0.3px #505050;">Project Plan and Gantt - BLANK</div>
<div style="position:absolute;left:419.98px;top:801.72px;height:40px;line-height:40px;white-space:nowrap;font-size:12px;font-weight:400;color:#505050;transform:scaleX(0.9762);transform-origin:center center;z-index:51;-webkit-text-stroke:0.3px #505050;">Stakeholder List</div>
<div style="position:absolute;left:538.98px;top:801.72px;height:40px;line-height:40px;white-space:nowrap;font-size:12px;font-weight:400;color:#505050;transform:scaleX(0.9725);transform-origin:center center;z-index:51;-webkit-text-stroke:0.3px #505050;">Cost Baseline</div>
<div style="position:absolute;left:646.64px;top:801.72px;height:40px;line-height:40px;white-space:nowrap;font-size:12px;font-weight:400;color:#505050;transform:scaleX(0.9809);transform-origin:center center;z-index:51;-webkit-text-stroke:0.3px #505050;">Communication Plan</div>
<div style="position:absolute;left:791.67px;top:801.72px;height:40px;line-height:40px;white-space:nowrap;font-size:12px;font-weight:400;color:#505050;transform:scaleX(0.9906);transform-origin:center center;z-index:51;-webkit-text-stroke:0.3px #505050;">- Disclaimer -</div>
<div style="position:absolute;left:892.44px;top:803.81px;height:40px;line-height:40px;white-space:nowrap;font-size:17px;font-weight:400;color:#444;z-index:51;-webkit-text-stroke:0.6px #444;">+</div>
</body></html>
